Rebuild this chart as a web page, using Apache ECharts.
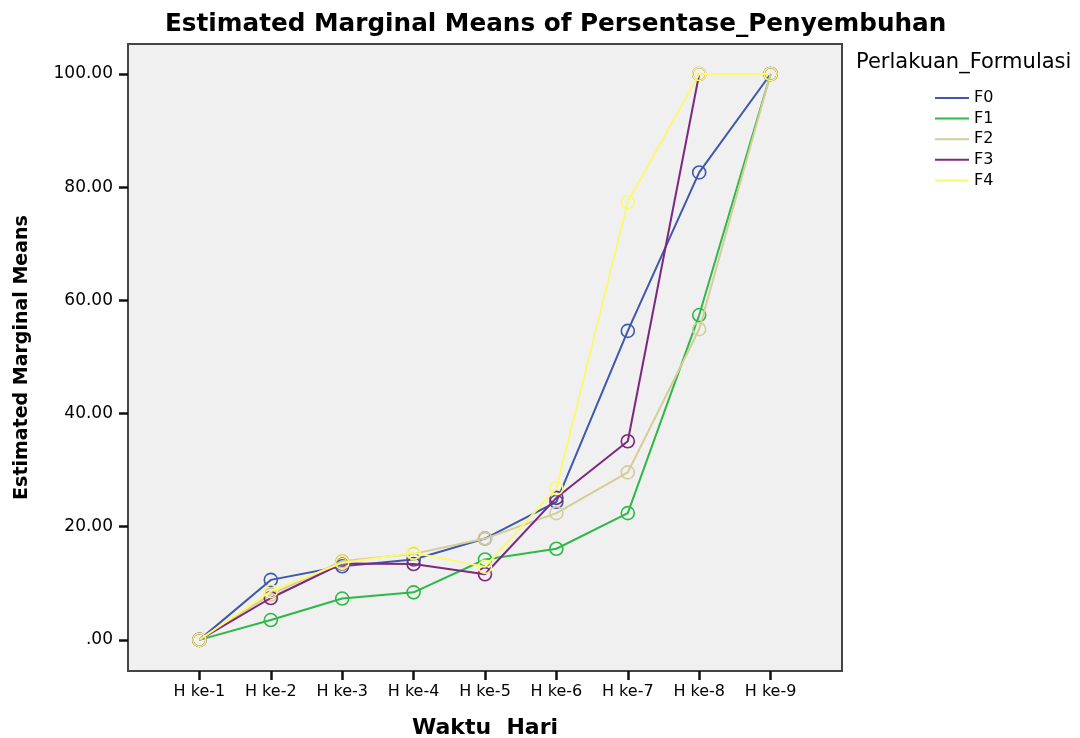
<!DOCTYPE html>
<html>
<head>
<meta charset="utf-8">
<script src="https://cdn.jsdelivr.net/npm/echarts@6/dist/echarts.min.js"></script>
<style>
html,body{margin:0;padding:0;background:#fff;}
#chart{width:1080px;height:738px;}
</style>
</head>
<body>
<div id="chart"></div>
<script>
const categories = ['H ke-1','H ke-2','H ke-3','H ke-4','H ke-5','H ke-6','H ke-7','H ke-8','H ke-9'];
const seriesNames = ['F0','F1','F2','F3','F4'];
const F0 = [0, 10.6, 13.0, 14.2, 17.9, 24.4, 54.6, 82.6, 100];
const F1 = [0, 3.5, 7.3, 8.4, 14.2, 16.1, 22.4, 57.4, 100];
const F2 = [0, 8.0, 13.9, 15.2, 17.9, 22.4, 29.6, 54.9, 100];
const F3 = [0, 7.4, 13.5, 13.4, 11.6, 25.1, 35.1, 100, 100];
const F4 = [0, 8.6, 13.6, 15.4, 12.9, 26.8, 77.4, 100, 100];
const yTicks = [0, 20, 40, 60, 80, 100];

const values = [F0, F1, F2, F3, F4];
const colors = ['#3e58ac', '#2eb848', '#d3ce97', '#7c287d', '#fbf873'];
const FONT = 'DejaVu Sans';

const chart = echarts.init(document.getElementById('chart'), null, {renderer: 'canvas'});
const xPos = categories.map((c, i) => i + 1);

const series = values.map((arr, s) => ({
  name: seriesNames[s],
  type: 'line',
  data: arr.map((v, i) => [xPos[i], v]),
  symbol: 'circle',
  symbolSize: 13,
  lineStyle: {color: colors[s], width: 2},
  itemStyle: {color: 'rgba(0,0,0,0)', borderColor: colors[s], borderWidth: 1.6},
  emphasis: {disabled: true},
  animation: false,
  z: 2 + s
}));

chart.setOption({
  animation: false,
  backgroundColor: '#ffffff',
  title: {
    text: 'Estimated Marginal Means of Persentase_Penyembuhan',
    left: 160, top: 7,
    textStyle: {fontFamily: FONT, fontSize: 24.7, fontWeight: 'bold', color: '#000'}
  },
  graphic: [{
    type: 'text', left: 856, top: 52,
    style: {text: 'Perlakuan_Formulasi', font: '21px "DejaVu Sans"', fill: '#000'}
  }],
  legend: {
    orient: 'vertical',
    left: 935, top: 90,
    padding: 0,
    icon: 'rect',
    itemWidth: 34, itemHeight: 2,
    itemGap: 4.6,
    textStyle: {fontFamily: FONT, fontSize: 16, color: '#000'},
    data: seriesNames.map((n, s) => ({name: n, itemStyle: {color: colors[s], borderWidth: 0}}))
  },
  grid: {
    left: 128, top: 44, width: 714, height: 627,
    show: true, backgroundColor: '#f0f0f0', borderColor: '#444', borderWidth: 2,
    containLabel: false,
    outerBoundsMode: 'none'
  },
  xAxis: {
    type: 'value', min: 0, max: 10,
    name: 'Waktu  Hari', nameLocation: 'middle', nameGap: 46,
    nameTextStyle: {fontFamily: FONT, fontSize: 22, fontWeight: 'bold', color: '#000'},
    axisLine: {show: true, onZero: false, lineStyle: {color: '#444', width: 2}},
    splitLine: {show: false},
    axisTick: {show: true, inside: false, length: 9, customValues: xPos, lineStyle: {color: '#111', width: 2.5}},
    axisLabel: {
      customValues: xPos, margin: 13,
      fontFamily: FONT, fontSize: 16, color: '#000',
      formatter: v => categories[Math.round(v) - 1] || ''
    }
  },
  yAxis: {
    type: 'value', min: -5.5, max: 105.3,
    name: 'Estimated Marginal Means', nameLocation: 'middle', nameGap: 96,
    nameTextStyle: {fontFamily: FONT, fontSize: 19, fontWeight: 'bold', color: '#000'},
    axisLine: {show: true, onZero: false, lineStyle: {color: '#444', width: 2}},
    splitLine: {show: false},
    axisTick: {show: true, inside: false, length: 9, customValues: yTicks, lineStyle: {color: '#111', width: 2.5}},
    axisLabel: {
      customValues: yTicks, margin: 15,
      fontFamily: FONT, fontSize: 17, color: '#000',
      formatter: v => v === 0 ? '.00' : v.toFixed(2)
    }
  },
  series: series
});
</script>
</body>
</html>
